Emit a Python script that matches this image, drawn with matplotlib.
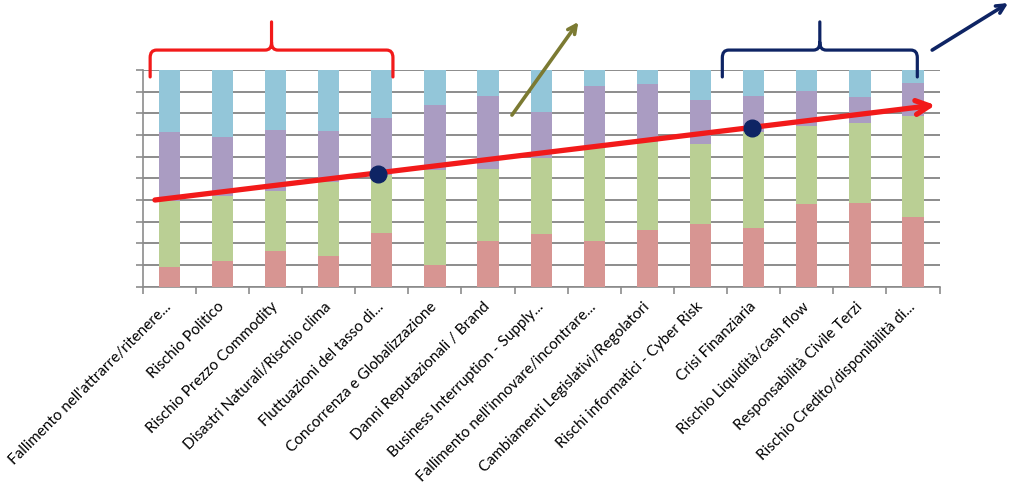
import matplotlib
matplotlib.use("Agg")
import matplotlib.pyplot as plt
from matplotlib.path import Path
from matplotlib.patches import PathPatch
import numpy as np

categories = [
    "Fallimento nell'attrarre/ritenere...",
    "Rischio Politico",
    "Rischio Prezzo Commodity",
    "Disastri Naturali/Rischio clima",
    "Fluttuazioni del tasso di...",
    "Concorrenza e Globalizzazione",
    "Danni Reputazionali / Brand",
    "Business Interruption - Supply...",
    "Fallimento nell'innovare/incontrare...",
    "Cambiamenti Legislativi/Regolatori",
    "Rischi informatici - Cyber Risk",
    "Crisi Finanziaria",
    "Rischio Liquidità/cash flow",
    "Responsabilità Civile Terzi",
    "Rischio Credito/disponibilità di...",
]

# share of answers per segment (%), bottom to top
red_vals = [9, 12, 16.5, 14, 25, 10, 21, 24.5, 21, 26, 29, 27, 38, 38.5, 32]
green_vals = [30.5, 30, 27.5, 34.5, 26.5, 44, 33.5, 35, 44.5, 41, 37, 44.5, 36, 37, 47]
purple_vals = [32, 27, 28.5, 23.5, 26.5, 30, 33.5, 21, 27, 26.5, 20, 16.5, 16.5, 12, 15]
blue_vals = [28.5, 31, 27.5, 28, 22, 16, 12, 19.5, 7.5, 6.5, 14, 12, 9.5, 12.5, 6]

seg_colors = ["#D79592", "#BACF94", "#AA9CC2", "#93C6D9"]

# hand drawn overlays (data units: x = category index, y = %)
trend_x = [-0.27, 14.42]
trend_y = [40.0, 83.8]
dots_x = [3.92, 10.97]
dots_y = [51.9, 73.1]
red_brace = (-0.36, 4.21)
navy_brace = (10.41, 14.08)
brace_y = (96.8, 109.2, 122.2)  # ends, bar, tip
olive_arrow = [(6.45, 79.2), (7.70, 122.2)]
navy_arrow = [(14.36, 109.2), (15.79, 130.9)]

navy = "#0E2464"
grid_c = "#8C8C8C"


def draw_brace(ax, x0, x1, color):
    y_end, y_bar, y_tip = brace_y
    xm = (x0 + x1) / 2
    dx, dy = 0.12, 3.5
    verts = [
        (x0, y_end), (x0, y_bar - dy), (x0, y_bar), (x0 + dx, y_bar),
        (xm - dx, y_bar), (xm, y_bar), (xm, y_bar + dy), (xm, y_tip),
        (xm, y_bar + dy), (xm, y_bar), (xm + dx, y_bar),
        (x1 - dx, y_bar), (x1, y_bar), (x1, y_bar - dy), (x1, y_end),
    ]
    codes = [
        Path.MOVETO, Path.LINETO, Path.CURVE3, Path.CURVE3,
        Path.LINETO, Path.CURVE3, Path.CURVE3, Path.LINETO,
        Path.MOVETO, Path.CURVE3, Path.CURVE3,
        Path.LINETO, Path.CURVE3, Path.CURVE3, Path.LINETO,
    ]
    ax.add_patch(PathPatch(Path(verts, codes), fill=False, edgecolor=color,
                           lw=2.3, clip_on=False, zorder=6, capstyle="round"))


fig = plt.figure(figsize=(10.23, 4.93), dpi=100)
ax = fig.add_axes([0.1395, 0.4185, 0.779, 0.4395])

x = np.arange(len(categories))
bottom = np.zeros(len(categories))
for vals, c in zip([red_vals, green_vals, purple_vals, blue_vals], seg_colors):
    ax.bar(x, vals, width=0.4, bottom=bottom, color=c, zorder=3)
    bottom += np.array(vals)

ax.set_xlim(-0.5, len(categories) - 0.5)
ax.set_ylim(0, 100)
ax.set_yticks(np.arange(0, 101, 10))
ax.set_yticklabels([])
ax.yaxis.grid(True, color=grid_c, lw=1.4, zorder=0)
ax.set_axisbelow(True)
for s in ["top", "right"]:
    ax.spines[s].set_visible(False)
for s in ["left", "bottom"]:
    ax.spines[s].set_color(grid_c)
    ax.spines[s].set_linewidth(1.2)
ax.tick_params(axis="y", length=5, color=grid_c, width=1.2)

ax.set_xticks(x)
ax.set_xticklabels(categories, rotation=45, ha="right", va="center",
                   rotation_mode="anchor", fontsize=11, family="Lato")
ax.set_xticks(np.arange(-0.5, len(categories), 1), minor=True)
ax.tick_params(axis="x", which="major", length=0, pad=13)
ax.tick_params(axis="x", which="minor", length=5, color=grid_c, width=1.2)

# trend arrow and markers
ax.annotate("", xy=(trend_x[1], trend_y[1]), xytext=(trend_x[0], trend_y[0]),
            arrowprops=dict(arrowstyle="->,head_length=1.0,head_width=0.5",
                            color="#F21A1A", lw=3.8, shrinkA=0, shrinkB=0),
            zorder=5, annotation_clip=False)
ax.plot(dots_x, dots_y, "o", color=navy, ms=12, zorder=7, clip_on=False)

draw_brace(ax, *red_brace, "#F21A1A")
draw_brace(ax, *navy_brace, navy)

ax.annotate("", xy=olive_arrow[1], xytext=olive_arrow[0],
            arrowprops=dict(arrowstyle="->,head_length=0.6,head_width=0.3",
                            color="#7B7A32", lw=2.6, shrinkA=0, shrinkB=0),
            zorder=5, annotation_clip=False)
ax.annotate("", xy=navy_arrow[1], xytext=navy_arrow[0],
            arrowprops=dict(arrowstyle="->,head_length=0.6,head_width=0.3",
                            color=navy, lw=2.6, shrinkA=0, shrinkB=0),
            zorder=5, annotation_clip=False)

fig.savefig("out.png", dpi=100)
